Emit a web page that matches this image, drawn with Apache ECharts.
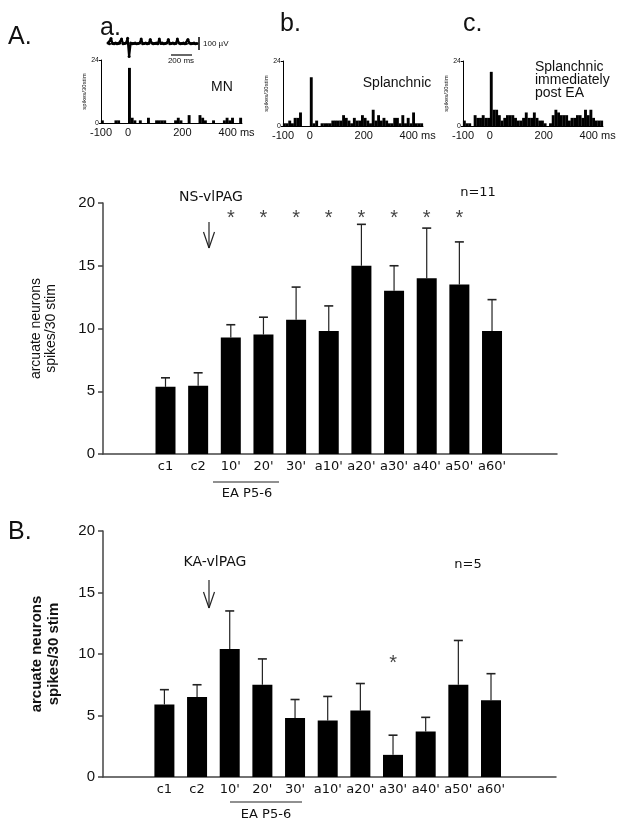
<!DOCTYPE html>
<html><head><meta charset="utf-8">
<script src="https://cdn.jsdelivr.net/npm/echarts@6/dist/echarts.min.js"></script>
<style>html,body{margin:0;padding:0;background:#fff}#c{width:628px;height:830px}</style>
</head><body><div id="c"></div>
<script>
// ---- data ----
const categories = ["c1","c2","10'","20'","30'","a10'","a20'","a30'","a40'","a50'","a60'"];
const meanA   = [5.35, 5.43, 9.28, 9.52, 10.7, 9.81, 15.0, 13.0, 14.0, 13.5, 9.8];
const errTopA = [6.07, 6.47, 10.3, 10.9, 13.3, 11.8, 18.3, 15.0, 18.0, 16.9, 12.3];
const starsA  = ["10'","20'","30'","a10'","a20'","a30'","a40'","a50'"];
const meanB   = [5.9, 6.5, 10.4, 7.5, 4.8, 4.6, 5.4, 1.8, 3.7, 7.5, 6.25];
const errTopB = [7.1, 7.5, 13.5, 9.6, 6.3, 6.55, 7.6, 3.4, 4.85, 11.1, 8.4];
const starsB  = ["a30'"];
const yTicks  = [0, 5, 10, 15, 20];

const histStart = -100, histBin = 10, histEnd = 420;
const histTicks = [-100, 0, 200, 400];
const histMN = [1,0,0,0,0,1,1,0,0,0, 21,2,1,0,1,0,0,2,0,0, 1,1,1,1,0,0,0,1,2,1, 0,0,3,0,0,0,3,2,1,0, 0,1,0,0,0,1,2,1,2,0, 0,2];
const histSplanchnic = [1,1,2,1,3,3,5,0,0,0, 18,1,2,0,1,1,1,1,2,2, 2,2,4,3,2,1,3,2,2,4, 3,2,1,6,2,4,2,3,2,1, 1,3,3,1,4,1,3,1,5,1, 1,1];
const histPostEA = [2,1,1,0,4,3,3,4,3,3, 20,6,6,4,2,3,4,4,4,3, 2,2,3,5,3,3,5,3,2,2, 1,0,1,4,6,5,4,4,4,2, 3,3,4,4,3,6,4,6,3,2, 2,2];
const traceMN = [0.1,-0.1,1.2,0.0,-0.1,0.1,-0.1,0.0,0.1,1.1,-0.1,0.0,0.1,1.3,-3.2,0.1,-0.1,0.0,0.1,-0.1,0.0,0.1,1.1,-0.1,0.0,0.1,-0.1,0.0,1.0,0.1,-0.1,0.0,0.1,-0.1,1.1,0.0,0.1,-0.1,0.0,0.1,1.0,-0.1,0.0,0.1,-0.1,0.0,1.1,0.1,-0.1,0.0,0.1,-0.1,0.0,1.0,0.1,-0.1,0.0,0.1,-0.1,0.0];

// ---- helpers ----
const FONT = "Liberation Sans, Arial, sans-serif";
const AX = '#444';
function histSeries(arr, idx){
  return {type:'bar', xAxisIndex:idx, yAxisIndex:idx, barWidth:2.9, itemStyle:{color:'#000'},
    data: arr.map((v,k)=>[histStart + histBin*(k+0.5), v]), animation:false};
}
function histX(idx){
  return {type:'value', gridIndex:idx, min:histStart, max:histEnd, splitLine:{show:false},
    axisLine:{onZero:false, lineStyle:{color:'#000', width:1}}, axisTick:{show:false},
    axisLabel:{customValues:histTicks, formatter:v=> v===400 ? '400 ms' : String(v), fontSize:11, color:'#111', margin:4, fontFamily:FONT}};
}
function histY(idx){
  return {type:'value', gridIndex:idx, min:0, max:24, interval:24, splitLine:{show:false},
    axisLine:{show:true, onZero:false, lineStyle:{color:'#000', width:1}}, axisTick:{show:true, length:2, lineStyle:{color:'#000'}},
    axisLabel:{fontSize:7, color:'#111', margin:2, fontFamily:FONT},
    name:'spikes/30stim', nameLocation:'middle', nameRotate:90, nameGap:11, nameTextStyle:{fontSize:6, color:'#111', fontFamily:FONT}};
}
function mainX(idx, min){
  return {type:'value', gridIndex:idx, min:min, max:11.99, splitLine:{show:false},
    axisLine:{onZero:false, lineStyle:{color:AX, width:1.5}}, axisTick:{show:false},
    axisLabel:{customValues:categories.map((c,i)=>i), formatter:v=>categories[Math.round(v)], fontSize:13, color:'#111', margin:6, fontFamily:'DejaVu Sans, sans-serif'}};
}
function mainY(idx, bold, fs, gap, lh){
  return {type:'value', gridIndex:idx, min:0, max:20, interval:5, splitLine:{show:false},
    axisLine:{show:true, onZero:false, lineStyle:{color:AX, width:1.5}}, axisTick:{show:true, length:5, lineStyle:{color:AX, width:1.5}},
    axisLabel:{fontSize:15, color:'#111', margin:8, fontFamily:FONT},
    name:'arcuate neurons\nspikes/30 stim', nameLocation:'middle', nameRotate:90, nameGap:gap,
    nameTextStyle:{fontSize:fs, fontWeight:bold?'bold':'normal', color:'#111', lineHeight:lh, fontFamily:FONT}};
}
function errSeries(idx, mean, top){
  return {type:'custom', xAxisIndex:idx, yAxisIndex:idx, animation:false,
    data: mean.map((m,i)=>[i, m, top[i]]),
    renderItem:(params, api)=>{
      const p0 = api.coord([api.value(0), api.value(1)]);
      const p1 = api.coord([api.value(0), api.value(2)]);
      const st = {stroke:'#222', lineWidth:1.2};
      return {type:'group', children:[
        {type:'line', shape:{x1:p0[0], y1:p0[1], x2:p1[0], y2:p1[1]}, style:st},
        {type:'line', shape:{x1:p1[0]-4.5, y1:p1[1], x2:p1[0]+4.5, y2:p1[1]}, style:{stroke:'#222', lineWidth:1.6}}
      ]};
    }};
}
function starSeries(idx, stars, yv){
  return {type:'scatter', xAxisIndex:idx, yAxisIndex:idx, symbolSize:1, itemStyle:{color:'rgba(0,0,0,0)'},
    data: stars.map(c=>[categories.indexOf(c), yv]),
    label:{show:true, position:'inside', formatter:'*', fontSize:20, color:'#111', fontFamily:FONT}, animation:false};
}
function txt(x, y, s, fs, opt){
  opt = opt || {};
  return {type:'text', x:x, y:y, rotation:opt.rot||0, style:{text:s, fontSize:fs, fontFamily:opt.ff||FONT, fontWeight:opt.fw||'normal',
    fill:opt.fill||'#111', align:opt.align||'left', verticalAlign:opt.va||'middle', lineHeight:opt.lh||fs}};
}
function ln(x1,y1,x2,y2,w,c){ return {type:'line', shape:{x1,y1,x2,y2}, style:{stroke:c||'#222', lineWidth:w||1}}; }
function arrow(x, y1, y2){
  return [ln(x,y1,x,y2,1.2), ln(x-5.5,y2-16,x,y2,1.2), ln(x+5.5,y2-16,x,y2,1.2)];
}

const option = {
  animation:false,
  backgroundColor:'#fff',
  grid:[
    {left:101, top:60, width:141, height:63},
    {left:283, top:61, width:140, height:65},
    {left:463, top:61, width:140, height:65},
    {left:108, top:37, width:89, height:21},
    {left:103, top:203, width:454, height:251},
    {left:103, top:531, width:453, height:246}
  ],
  xAxis:[ histX(0), histX(1), histX(2),
    {type:'value', gridIndex:3, min:0, max:traceMN.length-1, show:false},
    mainX(4, -1.914), mainX(5, -1.88) ],
  yAxis:[ histY(0), histY(1), histY(2),
    {type:'value', gridIndex:3, min:-3.6, max:1.6, show:false},
    mainY(4, false, 14, 44, 15), mainY(5, true, 15, 41, 17) ],
  series:[
    histSeries(histMN,0), histSeries(histSplanchnic,1), histSeries(histPostEA,2),
    {type:'line', xAxisIndex:3, yAxisIndex:3, data:traceMN.map((v,i)=>[i,v]), symbol:'circle', symbolSize:3,
      itemStyle:{color:'#000'}, lineStyle:{color:'#000', width:2.2}, animation:false},
    {type:'bar', xAxisIndex:4, yAxisIndex:4, barWidth:20, itemStyle:{color:'#000'}, data:meanA.map((v,i)=>[i,v]), z:2},
    errSeries(4, meanA, errTopA),
    starSeries(4, starsA, 18.75),
    {type:'bar', xAxisIndex:5, yAxisIndex:5, barWidth:20, itemStyle:{color:'#000'}, data:meanB.map((v,i)=>[i,v]), z:2},
    errSeries(5, meanB, errTopB),
    starSeries(5, starsB, 9.2)
  ],
  graphic:[
    txt(8, 37, 'A.', 25),
    txt(100, 28, 'a.', 25),
    txt(280, 24, 'b.', 25),
    txt(463, 24, 'c.', 25),
    txt(8, 532, 'B.', 25),
    // trace scale bars
    ln(199, 37, 199, 50, 1.5, '#000'),
    ln(171, 55, 192, 55, 1.2, '#000'),
    txt(203, 44, '100 µV', 8),
    txt(181, 61, '200 ms', 8, {align:'center'}),
    txt(222, 87, 'MN', 14, {align:'center'}),
    txt(397, 83, 'Splanchnic', 14, {align:'center'}),
    txt(535, 80, 'Splanchnic\nimmediately\npost EA', 14, {lh:13}),
    // panel A annotations
    txt(211, 197, 'NS-vlPAG', 14, {align:'center', ff:'DejaVu Sans, sans-serif'}),
    ...arrow(209, 222, 248),
    txt(478, 193, 'n=11', 13, {align:'center', ff:'DejaVu Sans, sans-serif'}),
    ln(213, 482, 279, 482, 1.2),
    txt(247, 494, 'EA P5-6', 13, {align:'center', ff:'DejaVu Sans, sans-serif'}),
    // panel B annotations
    txt(215, 562, 'KA-vlPAG', 14, {align:'center', ff:'DejaVu Sans, sans-serif'}),
    ...arrow(209, 580, 608),
    txt(468, 565, 'n=5', 13, {align:'center', ff:'DejaVu Sans, sans-serif'}),
    ln(230, 802, 302, 802, 1.2),
    txt(266, 815, 'EA P5-6', 13, {align:'center', ff:'DejaVu Sans, sans-serif'})
  ]
};
const chart = echarts.init(document.getElementById('c'), null, {renderer:'canvas'});
chart.setOption(option);
</script>
</body></html>
